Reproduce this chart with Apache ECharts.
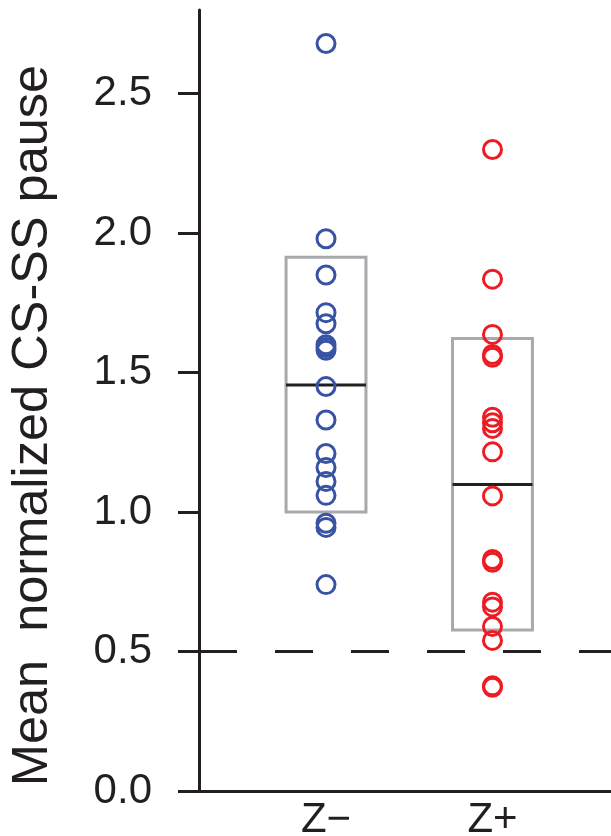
<!DOCTYPE html>
<html>
<head>
<meta charset="utf-8">
<script src="https://cdn.jsdelivr.net/npm/echarts@6/dist/echarts.min.js"></script>
<style>
html,body{margin:0;padding:0;background:#fff;}
#chart{width:611px;height:836px;}
</style>
</head>
<body>
<div id="chart"></div>
<script>
// ---- data ----
const categories = ['Z\u2212', 'Z+'];
const zMinus = [2.68, 1.98, 1.85, 1.715, 1.675, 1.60, 1.59, 1.58, 1.45, 1.33, 1.21, 1.16, 1.11, 1.06, 0.96, 0.945, 0.74];
const zPlus = [2.30, 1.835, 1.637, 1.565, 1.555, 1.34, 1.32, 1.30, 1.216, 1.058, 0.83, 0.82, 0.677, 0.66, 0.59, 0.54, 0.377, 0.372];
// box: [low, high, median]
const boxMinus = [1.0, 1.914, 1.456];
const boxPlus = [0.577, 1.622, 1.099];
const refLine = 0.5;
const yTicks = [0, 0.5, 1.0, 1.5, 2.0, 2.5];
const yName = 'Mean  normalized CS-SS pause';

const BLACK = '#231f20';
const FONT = 'Liberation Sans';
const halfW = 0.24;

const chart = echarts.init(document.getElementById('chart'), null, {renderer: 'canvas'});
const option = {
  animation: false,
  backgroundColor: '#fff',
  grid: {left: 199, right: 0, top: 10, bottom: 45, containLabel: false, outerBoundsMode: 'none'},
  xAxis: {
    type: 'value', min: 0.237, max: 2.712,
    splitLine: {show: false},
    axisLine: {show: true, onZero: false, lineStyle: {color: BLACK, width: 3}},
    axisTick: {show: false},
    axisLabel: {
      show: true, margin: 8, fontSize: 42, color: BLACK, fontFamily: FONT,
      customValues: [1, 2],
      formatter: v => categories[Math.round(v) - 1]
    }
  },
  yAxis: {
    type: 'value', min: 0, max: 2.8,
    name: yName, nameLocation: 'middle', nameGap: 140, nameRotate: 90,
    nameTextStyle: {fontSize: 50.5, color: BLACK, fontFamily: FONT, padding: [0, 50, 0, 0]},
    splitLine: {show: false},
    axisLine: {show: true, lineStyle: {color: BLACK, width: 3}},
    axisTick: {show: true, length: 21, lineStyle: {color: BLACK, width: 3}, customValues: yTicks},
    axisLabel: {
      margin: 47, fontSize: 42, color: BLACK, fontFamily: FONT,
      customValues: yTicks, formatter: v => v.toFixed(1)
    }
  },
  series: [
    {
      type: 'custom',
      silent: true,
      z: 1,
      data: [[1].concat(boxMinus), [2].concat(boxPlus)],
      renderItem: function (params, api) {
        const x = api.value(0), lo = api.value(1), hi = api.value(2), med = api.value(3);
        const p1 = api.coord([x - halfW, hi]);
        const p2 = api.coord([x + halfW, lo]);
        const m1 = api.coord([x - halfW, med]);
        const m2 = api.coord([x + halfW, med]);
        return {
          type: 'group',
          children: [
            {type: 'rect', shape: {x: p1[0], y: p1[1], width: p2[0] - p1[0], height: p2[1] - p1[1]},
             style: {fill: 'none', stroke: '#a7a9ac', lineWidth: 3}},
            {type: 'line', shape: {x1: m1[0], y1: m1[1], x2: m2[0], y2: m2[1]},
             style: {stroke: BLACK, lineWidth: 3}}
          ]
        };
      },
      markLine: {
        silent: true, symbol: 'none', label: {show: false},
        lineStyle: {color: BLACK, width: 3, type: [38, 38]},
        data: [{yAxis: refLine}]
      }
    },
    {
      type: 'scatter', z: 3,
      symbol: 'circle', symbolSize: 18,
      itemStyle: {color: 'rgba(255,255,255,0)', borderColor: '#3953a4', borderWidth: 3, opacity: 1},
      data: zMinus.map(v => [1, v])
    },
    {
      type: 'scatter', z: 3,
      symbol: 'circle', symbolSize: 18,
      itemStyle: {color: 'rgba(255,255,255,0)', borderColor: '#ed1c24', borderWidth: 3, opacity: 1},
      data: zPlus.map(v => [2, v])
    }
  ]
};
chart.setOption(option);
</script>
</body>
</html>
